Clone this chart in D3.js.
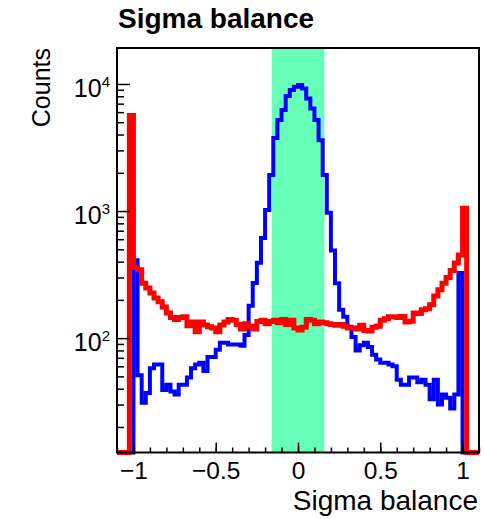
<!DOCTYPE html>
<html>
<head>
<meta charset="utf-8">
<script src="https://cdn.jsdelivr.net/npm/d3@7/dist/d3.min.js"></script>
<style>
  html, body { margin: 0; padding: 0; background: #ffffff; }
  svg { display: block; }
  text { font-family: "Liberation Sans", Arial, Helvetica, sans-serif; fill: #000; }
</style>
</head>
<body>
<svg id="chart" width="485" height="519"></svg>
<script>
// ---------------- data ----------------
const xRange = [-1.1, 1.1];          // histogram axis range
const nBins = 88;                     // bin width 0.025
const bandRange = [-0.16, 0.16];      // highlighted window
const xMajorTicks = [-1, -0.5, 0, 0.5, 1];
const xTickLabels = ["\u22121", "\u22120.5", "0", "0.5", "1"];
const yMajorTicks = [100, 1000, 10000];
const yTickExponents = ["2", "3", "4"];
const titleText = "Sigma balance";
const xTitle = "Sigma balance";
const yTitle = "Counts";

// blue histogram (88 bins from -1.1 to 1.1)
const blueCounts = [
  0, 0, 0, 0, 410, 51, 31, 37, 58, 62,
  62, 39, 43, 38, 36, 43, 43, 49, 58, 62,
  64, 55, 71, 71, 81, 92, 92, 89, 89, 89,
  87, 106, 180, 272, 391, 615, 1020, 1920, 3760, 5200,
  6240, 8040, 8960, 9500, 9800, 9200, 7700, 6400, 5200, 3600,
  1920, 970, 490, 270, 167, 147, 123, 102, 80, 88,
  92, 85, 74, 68, 64, 64, 62, 60, 47, 43,
  43, 49, 49, 45, 47, 43, 33, 47, 30, 36,
  34, 28, 36, 325, 0, 0, 0, 0
];
// red histogram (88 bins from -1.1 to 1.1)
const redCounts = [
  0, 0, 0, 5650, 360, 345, 270, 248, 227, 207,
  193, 176, 158, 145, 140, 145, 147, 125, 134, 112,
  134, 127, 123, 120, 112, 127, 134, 140, 138, 128,
  118, 130, 124, 118, 135, 138, 130, 135, 138, 132,
  140, 128, 138, 120, 116, 122, 140, 138, 130, 134,
  132, 130, 128, 126, 128, 124, 120, 120, 118, 126,
  115, 114, 122, 124, 138, 142, 147, 147, 145, 148,
  134, 136, 158, 156, 167, 170, 183, 215, 240, 270,
  300, 340, 390, 450, 1050, 0, 0, 0
];

// ---------------- layout ----------------
const frame = { l: 117, r: 479, t: 48, b: 452.5 };
const yDomain = [Math.pow(10, 1.1), Math.pow(10, 4.283)];

const svg = d3.select("#chart");
const x = d3.scaleLinear().domain(xRange).range([frame.l, frame.r]);
const y = d3.scaleLog().domain(yDomain).range([frame.b, frame.t]).clamp(true);

const binW = (xRange[1] - xRange[0]) / nBins;
function yv(v) { return v > 0 ? y(v) : frame.b; }

function histPath(counts) {
  const p = d3.path();
  p.moveTo(x(xRange[0]), yv(counts[0]));
  counts.forEach((c, i) => {
    const x0 = xRange[0] + i * binW, x1 = x0 + binW;
    p.lineTo(x(x0), yv(c));
    p.lineTo(x(x1), yv(c));
  });
  return p.toString();
}

// clip
svg.append("clipPath").attr("id", "clip")
  .append("rect").attr("x", frame.l).attr("y", frame.t - 3)
  .attr("width", frame.r - frame.l).attr("height", frame.b - frame.t + 6);

// band
svg.append("rect")
  .attr("x", x(bandRange[0])).attr("y", frame.t)
  .attr("width", x(bandRange[1]) - x(bandRange[0]))
  .attr("height", frame.b - frame.t)
  .attr("fill", "#66ffb8");

// histograms
const g = svg.append("g").attr("clip-path", "url(#clip)");
g.append("path").attr("d", histPath(blueCounts))
  .attr("fill", "none").attr("stroke", "#0000ff").attr("stroke-width", 4)
  .attr("stroke-linejoin", "miter");
g.append("path").attr("d", histPath(redCounts))
  .attr("fill", "none").attr("stroke", "#ff0000").attr("stroke-width", 5)
  .attr("stroke-linejoin", "miter");

// x axis: minor and major ticks (pointing inward)
const xMinor = d3.range(-11, 12).map(k => k / 10);
svg.append("g").attr("transform", `translate(0,${frame.b})`)
  .call(d3.axisBottom(x).tickValues(xMinor).tickSize(-5).tickSizeOuter(0).tickFormat(""))
  .call(s => s.select(".domain").remove())
  .call(s => s.selectAll("line").attr("stroke-width", 1.5));
const xAx = svg.append("g").attr("transform", `translate(0,${frame.b})`)
  .call(d3.axisBottom(x).tickValues(xMajorTicks).tickSize(-10).tickSizeOuter(0)
    .tickPadding(9).tickFormat((d, i) => xTickLabels[i]))
  .call(s => s.select(".domain").remove())
  .call(s => s.selectAll("line").attr("stroke-width", 1.5));
xAx.selectAll("text").style("font-size", "24.5px")
  .style("font-family", '"Liberation Sans", Arial, sans-serif').attr("fill", "#000");

// y axis: minor and major ticks
const yMinor = [];
[10, 100, 1000, 10000].forEach(dec => { for (let m = 2; m <= 9; m++) yMinor.push(m * dec); });
const yMinorIn = yMinor.filter(v => v >= yDomain[0] && v <= yDomain[1]);
svg.append("g").attr("transform", `translate(${frame.l},0)`)
  .call(d3.axisLeft(y).tickValues(yMinorIn).tickSize(-7).tickSizeOuter(0).tickFormat(""))
  .call(s => s.select(".domain").remove())
  .call(s => s.selectAll("line").attr("stroke-width", 1.5));
svg.append("g").attr("transform", `translate(${frame.l},0)`)
  .call(d3.axisLeft(y).tickValues(yMajorTicks).tickSize(-13).tickSizeOuter(0).tickFormat(""))
  .call(s => s.select(".domain").remove())
  .call(s => s.selectAll("line").attr("stroke-width", 1.5));

// y tick labels 10^n
yMajorTicks.forEach((v, i) => {
  const t = svg.append("text")
    .attr("x", 110).attr("y", y(v) + 12.7)
    .attr("text-anchor", "end")
    .style("font-size", "25px");
  t.append("tspan").text("10");
  t.append("tspan").attr("dy", -9.4).style("font-size", "15px").text(yTickExponents[i]);
});

// frame
svg.append("rect")
  .attr("x", frame.l).attr("y", frame.t)
  .attr("width", frame.r - frame.l).attr("height", frame.b - frame.t)
  .attr("fill", "none").attr("stroke", "#000").attr("stroke-width", 2);

// titles
svg.append("text").attr("x", 118).attr("y", 28)
  .style("font-size", "28px").style("font-weight", "bold").text(titleText);
svg.append("text").attr("x", 478).attr("y", 510).attr("text-anchor", "end")
  .style("font-size", "28px").text(xTitle);
svg.append("text").attr("transform", "translate(50,48) rotate(-90)")
  .attr("text-anchor", "end").style("font-size", "25px").text(yTitle);
</script>
</body>
</html>
